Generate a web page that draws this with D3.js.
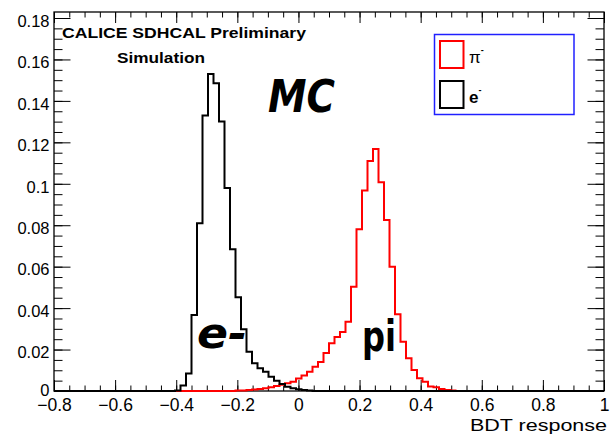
<!DOCTYPE html>
<html>
<head>
<meta charset="utf-8">
<script src="https://cdn.jsdelivr.net/npm/d3@7/dist/d3.min.js"></script>
<style>
  body { margin: 0; background: #fff; }
  svg text { font-family: "Liberation Sans", Arial, sans-serif; fill: #000; }
</style>
</head>
<body>
<div id="chart"></div>
<script>
'use strict';

// histogram binning: 100 bins between -0.8 and 1
var binLow = -0.8;
var binWidth = 0.018;
var nBins = 100;

// normalised bin contents (starting at the given bin)
var pionFirstBin = 33;
var pionCounts = [
    0.0002, 0.0003, 0.0005, 0.0007, 0.001, 0.0013, 0.0018, 0.0024, 0.003, 0.0037,
    0.0045, 0.006, 0.0075, 0.0093, 0.0117, 0.014, 0.0183, 0.023, 0.026, 0.0285,
    0.0334, 0.0503, 0.078, 0.0967, 0.111, 0.1168, 0.1007, 0.0825, 0.060, 0.037,
    0.0238, 0.0158, 0.0101, 0.0061, 0.0045, 0.0022, 0.0018, 0.001, 0.0005, 0.0003
];
var electronFirstBin = 22;
var electronCounts = [
    0.0003, 0.0026, 0.0085, 0.0367, 0.081, 0.133, 0.153, 0.1485, 0.130, 0.098,
    0.0684, 0.0452, 0.0298, 0.019, 0.0134, 0.011, 0.0093, 0.0069, 0.005, 0.0034,
    0.0021, 0.0013, 0.0008, 0.0005, 0.0003
];

var xTicks = [-0.8, -0.6, -0.4, -0.2, 0, 0.2, 0.4, 0.6, 0.8, 1];
var yTicks = [0, 0.02, 0.04, 0.06, 0.08, 0.1, 0.12, 0.14, 0.16, 0.18];
var legendLabels = ['\u03c0', 'e'];
var legendColors = ['#ff0000', '#000000'];
var titleLines = ['CALICE SDHCAL Preliminary', 'Simulation'];
var xTitle = 'BDT response';

var width = 612, height = 435;
var frameL = 54, frameR = 604, frameT = 12, frameB = 391;

var svg = d3.select('#chart').append('svg')
    .attr('width', width)
    .attr('height', height);

var x = d3.scaleLinear().domain([-0.8, 1]).range([frameL, frameR]);
var y = d3.scaleLinear().domain([0, 0.1829]).range([frameB, frameT]);

var steps = function(first, counts) {
    var pts = [[binLow, 0]];
    for (var k = 0; k < nBins; k++) {
        var c = (k >= first && k < first + counts.length) ? counts[k - first] : 0;
        var lo = binLow + k * binWidth;
        pts.push([lo, c], [lo + binWidth, c]);
    }
    pts.push([binLow + nBins * binWidth, 0]);
    return pts;
};

var line = d3.line()
    .x(function(d) { return x(d[0]); })
    .y(function(d) { return y(d[1]); });

// minor ticks every 0.05 on x and 0.005 on y
var xMinor = d3.range(-0.8, 1.0001, 0.05);
var yMinor = d3.range(0, 0.1801, 0.005);

var noLabel = function() { return ''; };
var fmt = d3.format('~g');

var tickAxis = function(axis, pos, values, size, labels) {
    var g = svg.append('g')
        .attr('transform', pos)
        .call(axis.tickValues(values).tickSizeInner(-size).tickSizeOuter(0)
            .tickFormat(labels ? fmt : noLabel));
    g.select('.domain').remove();
    g.selectAll('line').attr('stroke', '#000').attr('stroke-width', 1);
    return g;
};

tickAxis(d3.axisBottom(x), 'translate(0,' + frameB + ')', xMinor, 5.5, false);
tickAxis(d3.axisTop(x), 'translate(0,' + frameT + ')', xMinor, 5.5, false);
tickAxis(d3.axisTop(x), 'translate(0,' + frameT + ')', xTicks, 11, false);
tickAxis(d3.axisLeft(y), 'translate(' + frameL + ',0)', yMinor, 8.5, false);
tickAxis(d3.axisRight(y), 'translate(' + frameR + ',0)', yMinor, 8.5, false);
tickAxis(d3.axisRight(y), 'translate(' + frameR + ',0)', yTicks, 16.5, false);

var xAxisG = tickAxis(d3.axisBottom(x), 'translate(0,' + frameB + ')', xTicks, 11, true);
xAxisG.selectAll('text')
    .attr('y', 20).attr('dy', 0)
    .style('font-size', '17.5px')
    .style('font-family', '"Liberation Sans", Arial, sans-serif');

var yAxisG = tickAxis(d3.axisLeft(y), 'translate(' + frameL + ',0)', yTicks, 16.5, true);
yAxisG.selectAll('text')
    .attr('x', -4.5)
    .attr('dy', function(d) { return d === 0 ? '0.25em' : '0.5em'; })
    .style('font-size', '16.5px')
    .style('font-family', '"Liberation Sans", Arial, sans-serif');

// frame
svg.append('rect')
    .attr('x', frameL).attr('y', frameT)
    .attr('width', frameR - frameL).attr('height', frameB - frameT)
    .attr('fill', 'none').attr('stroke', '#000').attr('stroke-width', 1.3);

// histograms: pions first, electrons drawn over
svg.append('path')
    .attr('d', line(steps(pionFirstBin, pionCounts)))
    .attr('fill', 'none').attr('stroke', legendColors[0]).attr('stroke-width', 2);
svg.append('path')
    .attr('d', line(steps(electronFirstBin, electronCounts)))
    .attr('fill', 'none').attr('stroke', legendColors[1]).attr('stroke-width', 2);

// header text
svg.append('text')
    .attr('x', 62).attr('y', 38)
    .attr('textLength', 244).attr('lengthAdjust', 'spacingAndGlyphs')
    .style('font-size', '15.5px').style('font-weight', 'bold')
    .text(titleLines[0]);
svg.append('text')
    .attr('x', 117).attr('y', 63)
    .attr('textLength', 88).attr('lengthAdjust', 'spacingAndGlyphs')
    .style('font-size', '15.5px').style('font-weight', 'bold')
    .text(titleLines[1]);

// hand-written annotations
svg.append('text')
    .attr('x', 268).attr('y', 112)
    .attr('textLength', 67).attr('lengthAdjust', 'spacingAndGlyphs')
    .style('font-family', '"DejaVu Sans", sans-serif')
    .style('font-size', '44px').style('font-weight', 'bold').style('font-style', 'italic')
    .text('MC');
svg.append('text')
    .attr('x', 197).attr('y', 348)
    .attr('textLength', 50).attr('lengthAdjust', 'spacingAndGlyphs')
    .style('font-family', '"DejaVu Sans", sans-serif')
    .style('font-size', '42px').style('font-weight', 'bold').style('font-style', 'italic')
    .text('e-');
svg.append('text')
    .attr('x', 362).attr('y', 351)
    .attr('textLength', 34).attr('lengthAdjust', 'spacingAndGlyphs')
    .style('font-family', '"DejaVu Sans", sans-serif')
    .style('font-size', '42px').style('font-weight', 'bold')
    .text('pi');

// legend
svg.append('rect')
    .attr('x', 434.5).attr('y', 34.5).attr('width', 139.5).attr('height', 80)
    .attr('fill', '#fff').attr('stroke', '#2020ff').attr('stroke-width', 1.5);

legendLabels.forEach(function(lab, i) {
    var yy = 41 + i * 40;
    svg.append('rect')
        .attr('x', 440).attr('y', yy).attr('width', 23.5).attr('height', 27)
        .attr('fill', 'none').attr('stroke', legendColors[i]).attr('stroke-width', 2);
    var t = svg.append('text')
        .attr('x', 469).attr('y', yy + 22)
        .style('font-size', '17px')
        .style('font-weight', i === 1 ? 'bold' : 'normal');
    t.append('tspan').text(lab);
    t.append('tspan').attr('dy', -10).style('font-size', '9px').style('font-weight', 'bold').text('-');
});

// axis title
svg.append('text')
    .attr('x', 607).attr('y', 430.5)
    .attr('text-anchor', 'end')
    .attr('textLength', 137).attr('lengthAdjust', 'spacingAndGlyphs')
    .style('font-size', '17px')
    .text(xTitle);
</script>
</body>
</html>
